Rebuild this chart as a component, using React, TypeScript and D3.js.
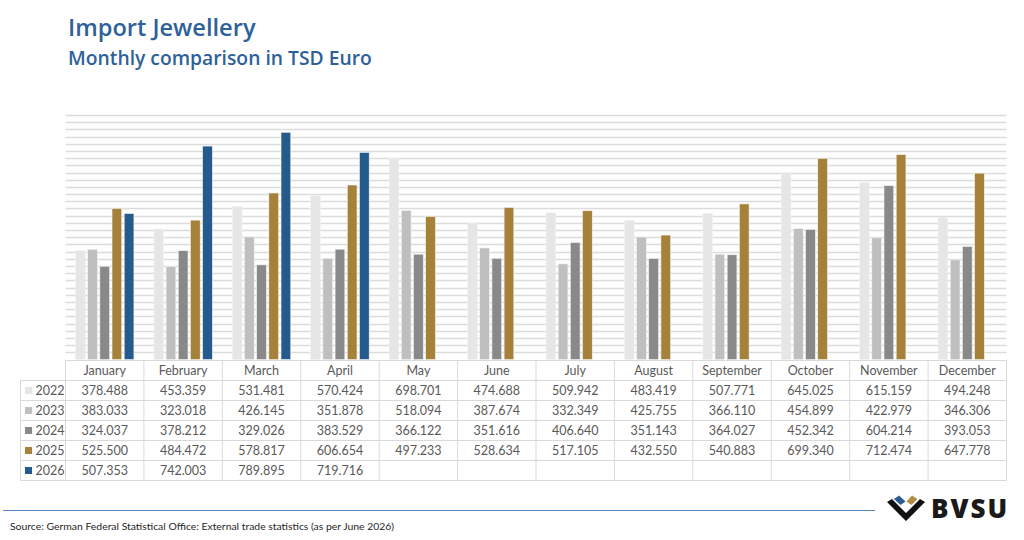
import React from "react";
import * as d3 from "d3";

const months = ["January", "February", "March", "April", "May", "June", "July", "August", "September", "October", "November", "December"];
const years = ["2022", "2023", "2024", "2025", "2026"];
const yearColors = ["#e6e6e6", "#bfbfbf", "#898989", "#a5813a", "#255a8d"];

const v2022 = [378.488, 453.359, 531.481, 570.424, 698.701, 474.688, 509.942, 483.419, 507.771, 645.025, 615.159, 494.248];
const v2023 = [383.033, 323.018, 426.145, 351.878, 518.094, 387.674, 332.349, 425.755, 366.11, 454.899, 422.979, 346.306];
const v2024 = [324.037, 378.212, 329.026, 383.529, 366.122, 351.616, 406.64, 351.143, 364.027, 452.342, 604.214, 393.053];
const v2025 = [525.5, 484.472, 578.817, 606.654, 497.233, 528.634, 517.105, 432.55, 540.883, 699.34, 712.474, 647.778];
const v2026: (number | null)[] = [507.353, 742.003, 789.895, 719.716, null, null, null, null, null, null, null, null];

const series = [v2022, v2023, v2024, v2025, v2026];
const yMax = 850;
const gridStep = 25;

const W = 1024;
const H = 540;
const plotLeft = 65.5;
const plotRight = 1006.5;
const plotTop = 115;
const plotBottom = 359.5;
const legendLeft = 20.5;
const rowH = 20;
const headerTop = 360;

const fmt = (v: number) => v.toFixed(3);

export default function App() {
  const x = d3.scaleBand<string>().domain(months).range([plotLeft, plotRight]).padding(0);
  const xi = d3
    .scaleBand<string>()
    .domain(years)
    .range([0, x.bandwidth()])
    .paddingInner(0.2)
    .paddingOuter(0.82);
  const y = d3.scaleLinear().domain([0, yMax]).range([plotBottom, plotTop]);
  const gridVals = d3.range(gridStep, yMax + 0.01, gridStep);

  const textColor = "#595959";
  const borderColor = "#d9d9d9";
  const tableFont = "Lato, 'Open Sans', sans-serif";
  const tableBottom = headerTop + rowH * (years.length + 1);

  return (
    <svg width={W} height={H} viewBox={`0 0 ${W} ${H}`} style={{ position: "absolute", left: 0, top: 0, background: "#fff" }}>
      {/* titles */}
      <text x={68} y={36} fontFamily="'Open Sans', sans-serif" fontWeight={600} fontSize={23.6} fill="#2e6199">
        Import Jewellery
      </text>
      <text x={68} y={65} fontFamily="'Open Sans', sans-serif" fontWeight={600} fontSize={19.3} fill="#2e6199">
        Monthly comparison in TSD Euro
      </text>

      {/* horizontal gridlines */}
      {gridVals.map((v) => (
        <line key={v} x1={plotLeft} x2={plotRight} y1={Math.round(y(v)) + 0.5} y2={Math.round(y(v)) + 0.5} stroke="#dcdcdc" strokeWidth={1.3} />
      ))}

      {/* bars */}
      {months.map((m, mi) => (
        <g key={m} transform={`translate(${x(m)},0)`}>
          {series.map((s, si) => {
            const v = s[mi];
            if (v == null) return null;
            return (
              <rect
                key={si}
                x={xi(years[si])}
                y={y(v)}
                width={xi.bandwidth()}
                height={plotBottom - y(v)}
                fill={yearColors[si]}
                stroke="#f2f2f2"
                strokeWidth={0.6}
              />
            );
          })}
        </g>
      ))}

      {/* data table */}
      <g fontFamily={tableFont} fontSize={12.5} fill={textColor}>
        {/* header row */}
        <line x1={plotLeft} x2={plotRight} y1={headerTop + 0.5} y2={headerTop + 0.5} stroke={borderColor} />
        {months.map((m) => (
          <text key={m} x={(x(m) as number) + x.bandwidth() / 2} y={headerTop + 15} textAnchor="middle">
            {m}
          </text>
        ))}
        {/* row lines */}
        {years.map((yr, ri) => (
          <line
            key={yr}
            x1={legendLeft}
            x2={plotRight}
            y1={headerTop + rowH * (ri + 1) + 0.5}
            y2={headerTop + rowH * (ri + 1) + 0.5}
            stroke={borderColor}
          />
        ))}
        <line x1={legendLeft} x2={plotRight} y1={tableBottom + 0.5} y2={tableBottom + 0.5} stroke={borderColor} />
        {/* column lines */}
        <line x1={legendLeft} x2={legendLeft} y1={headerTop + rowH} y2={tableBottom + 0.5} stroke={borderColor} />
        {months.map((m) => (
          <line key={m} x1={x(m)} x2={x(m)} y1={headerTop} y2={tableBottom + 0.5} stroke={borderColor} />
        ))}
        <line x1={plotRight} x2={plotRight} y1={headerTop} y2={tableBottom + 0.5} stroke={borderColor} />
        {/* legend + values */}
        {years.map((yr, ri) => {
          const rowY = headerTop + rowH * (ri + 1);
          return (
            <g key={yr}>
              <rect x={25} y={rowY + 7} width={7} height={7} fill={yearColors[ri]} />
              <text x={35.5} y={rowY + 15}>
                {yr}
              </text>
              {months.map((m, mi) => {
                const v = series[ri][mi];
                if (v == null) return null;
                return (
                  <text key={m} x={(x(m) as number) + x.bandwidth() / 2} y={rowY + 15} textAnchor="middle">
                    {fmt(v)}
                  </text>
                );
              })}
            </g>
          );
        })}
      </g>

      {/* footer */}
      <line x1={3} x2={875} y1={510.5} y2={510.5} stroke="#5b87c0" strokeWidth={1} />
      <text x={10} y={530} fontFamily="Lato, sans-serif" fontSize={10.4} fill="#262626">
        Source: German Federal Statistical Office: External trade statistics (as per June 2026)
      </text>

      {/* logo */}
      <g>
        <polygon points="887,502 892,499 906,513 920,499 925,502 906,521" fill="#111" />
        <polygon points="894,499 899,495.5 905.5,501.5 900.5,505" fill="#2b5d93" />
        <polygon points="906.5,501.5 912,495.5 917.5,499 911.5,505" fill="#b08d45" />
        <text x={931} y={517.5} fontFamily="'Open Sans', sans-serif" fontWeight={800} fontSize={26} letterSpacing={2} fill="#1a1a1a">
          BVSU
        </text>
      </g>
    </svg>
  );
}
